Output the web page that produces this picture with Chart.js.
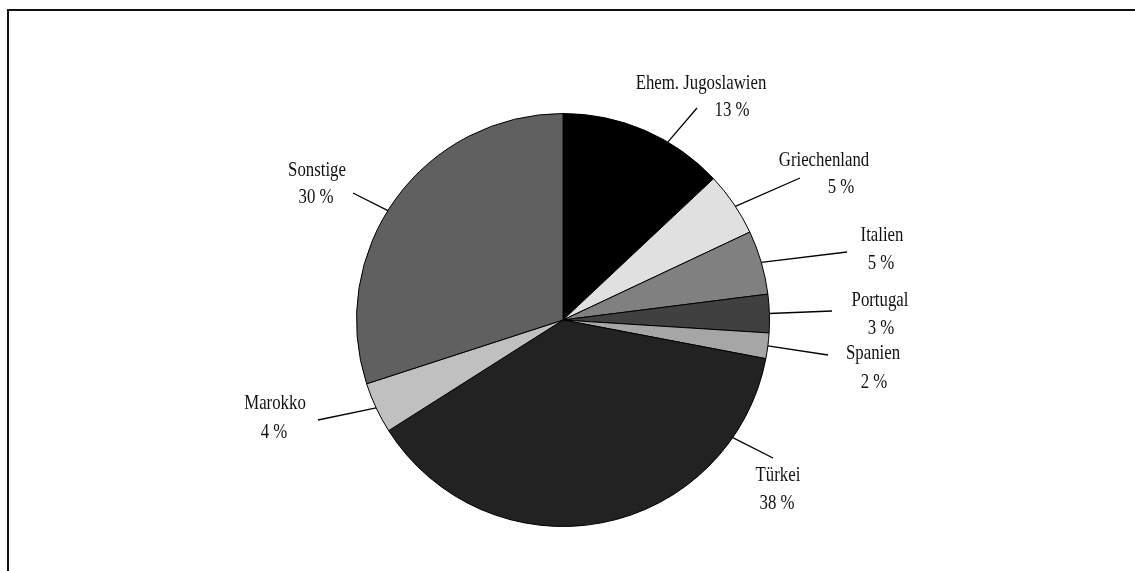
<!DOCTYPE html>
<html>
<head>
<meta charset="utf-8">
<script src="https://cdn.jsdelivr.net/npm/chart.js@4.4.1/dist/chart.umd.min.js"></script>
<style>
  html, body { margin: 0; padding: 0; background: #fff; }
  #wrap { position: relative; width: 1135px; height: 571px; overflow: hidden; }
  #frame { position: absolute; left: 7px; top: 9px; width: 1200px; height: 600px;
           border-left: 2px solid #111; border-top: 2px solid #111; }
  canvas { position: absolute; left: 0; top: 0; }
</style>
</head>
<body>
<div id="wrap">
  <div id="frame"></div>
  <canvas id="pieChart" width="1135" height="571"></canvas>
</div>
<script>
// data
const countries = ['Ehem. Jugoslawien', 'Griechenland', 'Italien', 'Portugal', 'Spanien', 'Türkei', 'Marokko', 'Sonstige'];
const shares = [13, 5, 5, 3, 2, 38, 4, 30];
const sliceColors = ['#000000', '#e0e0e0', '#808080', '#404040', '#a6a6a6', '#222222', '#c0c0c0', '#606060'];

// label placement (leader angle from top in degrees, leader end, text line centres)
const labelLayout = [
  { ang: 30.5,  end: [697, 108], l1: [701, 83],  l2: [732, 110] },
  { ang: 56.6,  end: [800, 178], l1: [824, 160], l2: [841, 187] },
  { ang: 73.8,  end: [847, 252], l1: [882, 235], l2: [881, 263] },
  { ang: 88.2,  end: [832, 311], l1: [880, 300], l2: [881, 328] },
  { ang: 97.2,  end: [828, 355], l1: [873, 353], l2: [874, 382] },
  { ang: 124.7, end: [773, 458], l1: [778, 475], l2: [777, 503] },
  { ang: 244.8, end: [318, 420], l1: [275, 403], l2: [274, 432] },
  { ang: 302,   end: [353, 193], l1: [317, 170], l2: [316, 197] }
];

// narrow serif look: Times-metric font squeezed horizontally
function condensedText(c, txt, x, y) {
  c.save();
  c.translate(x, y);
  c.scale(0.8, 1);
  c.fillText(txt, 0, 0);
  c.restore();
}

const leaderLabels = {
  id: 'leaderLabels',
  afterDraw(chart) {
    const c = chart.ctx;
    const arcs = chart.getDatasetMeta(0).data;
    c.save();
    c.strokeStyle = '#000';
    c.lineWidth = 1.3;
    c.fillStyle = '#111';
    c.font = '21px "Liberation Serif", "DejaVu Serif", serif';
    c.textAlign = 'center';
    c.textBaseline = 'middle';
    arcs.forEach((arc, i) => {
      const lay = labelLayout[i];
      const a = (lay.ang - 90) * Math.PI / 180;
      const sx = arc.x + arc.outerRadius * Math.cos(a);
      const sy = arc.y + arc.outerRadius * Math.sin(a);
      c.beginPath();
      c.moveTo(sx, sy);
      c.lineTo(lay.end[0], lay.end[1]);
      c.stroke();
      condensedText(c, countries[i], lay.l1[0], lay.l1[1]);
      condensedText(c, shares[i] + ' %', lay.l2[0], lay.l2[1]);
    });
    c.restore();
  }
};

const ctx = document.getElementById('pieChart').getContext('2d');
new Chart(ctx, {
  type: 'pie',
  data: {
    labels: countries,
    datasets: [{
      data: shares,
      backgroundColor: sliceColors,
      borderColor: '#000',
      borderWidth: 1
    }]
  },
  options: {
    responsive: false,
    animation: false,
    layout: { padding: { top: 113, bottom: 44, left: 0, right: 9 } },
    plugins: {
      legend: { display: false },
      tooltip: { enabled: false }
    }
  },
  plugins: [leaderLabels]
});
</script>
</body>
</html>
